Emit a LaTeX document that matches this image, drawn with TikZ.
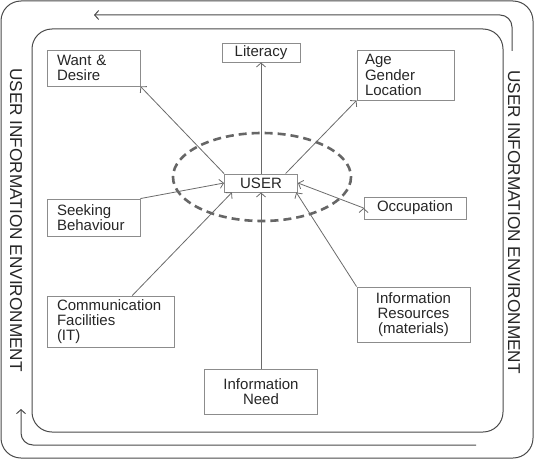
\documentclass[tikz,border=0pt]{standalone}
\usepackage{fontspec}
\setmainfont{Liberation Sans}
\usepackage{xcolor}
\usepackage{tikz}
\usetikzlibrary{arrows.meta, positioning}

\definecolor{framegray}{HTML}{4A4A4A}
\definecolor{boxgray}{HTML}{8C8C8C}
\definecolor{linegray}{HTML}{6A6A6A}
\definecolor{textgray}{HTML}{262626}
\definecolor{ringgray}{HTML}{666666}

\begin{document}
\begin{tikzpicture}[x=1pt, y=-1pt, >={Straight Barb[length=4pt, width=9pt]},
        font=\fontsize{15}{15.3}\selectfont, text=textgray,
        box/.style={draw=boxgray, line width=0.9pt, inner sep=0pt, align=center},
        leftbox/.style={box, align=left},
        link/.style={draw=linegray, line width=0.8pt},
        envtext/.style={rotate=-90, font=\fontsize{17.2}{20}\selectfont}]
        \useasboundingbox (0,0) rectangle (535,460);

        % frames
        \draw[framegray, line width=1pt, rounded corners=20] (1,1) rectangle (533,458);
        \draw[framegray, line width=1pt, rounded corners=20] (32,29) rectangle (503,432);

        \node[envtext] (envleft)  at (16,220)  {USER INFORMATION ENVIRONMENT};
        \node[envtext] (envright) at (514,222) {USER INFORMATION ENVIRONMENT};

        \coordinate (topstart) at (512,51);
        \coordinate (topend)   at (94,15);
        \coordinate (botstart) at (476,445);
        \coordinate (botend)   at (21,409);
        \draw[framegray, line width=1pt, ->, rounded corners=12] (topstart) |- (topend);
        \draw[framegray, line width=1pt, ->, rounded corners=12] (botstart) -| (botend);

        % centre
        \draw[ringgray, line width=2.6pt, dash pattern=on 8pt off 5pt] (262,177) ellipse [x radius=89, y radius=44];
        \node[box, minimum width=73pt, minimum height=18pt, fill=white] (user) at (261,183) {USER};

        % boxes
        \node[box, minimum width=78pt, minimum height=19pt] (literacy) at (261,52.5) {Literacy};
        \node[leftbox, minimum width=93pt, minimum height=36pt, text width=73pt] (want) at (93.5,68) {Want \&\\Desire};
        \node[leftbox, minimum width=97pt, minimum height=50pt, text width=81pt] (age) at (405.5,75) {Age\\Gender\\Location};
        \node[box, minimum width=102pt, minimum height=22pt] (occupation) at (415,208) {Occupation};
        \node[leftbox, minimum width=93pt, minimum height=37pt, text width=73pt] (seeking) at (93.5,217.5) {Seeking\\Behaviour};
        \node[leftbox, minimum width=127pt, minimum height=51pt, text width=107pt] (comm) at (110.5,321.5) {Communication\\Facilities\\(IT)};
        \node[box, minimum width=113pt, minimum height=55pt] (resources) at (413.5,314.5) {Information\\Resources\\(materials)};
        \node[box, minimum width=113pt, minimum height=45pt] (need) at (261,391.5) {Information\\Need};

        \path[->, link]
        (user.north) edge (literacy.south)
        (user.north west) edge (want.south east)
        (user.21) edge (age.south west)

        (seeking.north east) edge (user.west)
        (comm.50) edge (user.198)
        (need.north) edge (user.south)
        (resources.north west) edge (user.-15.5)
        (occupation.west) edge (user.east);

    \end{tikzpicture}
\end{document}
